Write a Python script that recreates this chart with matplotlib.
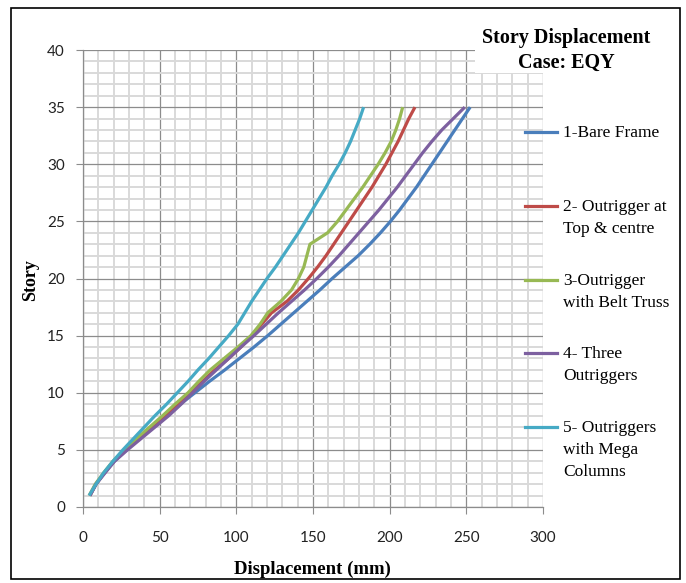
import matplotlib
matplotlib.use("Agg")
import matplotlib.pyplot as plt
from matplotlib.lines import Line2D
from matplotlib.patches import Rectangle
from matplotlib.ticker import MultipleLocator

stories = list(range(1, 36))

bare_frame = [4.5, 8.5, 14, 20.5, 28.5, 37, 46, 55, 63.5, 73,
              82.5, 92.5, 102, 111.5, 120.5, 129, 137.5, 146, 154.5, 162.5,
              171, 179.5, 187, 194, 200.5, 206.5, 212, 217.5, 222.5, 227.5,
              232.5, 237.5, 242.5, 247.5, 252.5]
outrigger_top_centre = [4.5, 8.5, 14, 20, 27.5, 36, 44.5, 53, 61.5, 70,
                        78, 86, 95, 103, 110.5, 116.5, 123, 133, 140.5, 147,
                        153, 158.5, 163.5, 168.5, 173.5, 178.5, 183.5, 188.5, 193, 197.5,
                        201.5, 205.5, 209, 212.5, 216.5]
outrigger_belt_truss = [4, 8, 13.5, 19.5, 27, 35, 43.5, 52, 60, 68.5,
                        75.5, 83, 92, 101, 109.5, 115.5, 120.5, 129, 136, 140.5,
                        144, 146, 148, 159.5, 166, 171.5, 177, 182.5, 187.5, 192.5,
                        197, 201, 204, 206.5, 208.5]
three_outriggers = [4.5, 8.5, 14.5, 20.5, 29, 38, 47, 56, 64, 71.5,
                    79, 87, 95, 103, 111.5, 119.5, 127.5, 136, 144.5, 152.5,
                    160, 167, 173.5, 180, 186.5, 193, 199, 205, 210.5, 216,
                    221.5, 227.5, 234, 241.5, 249]
mega_columns = [4, 8.5, 13.5, 19.5, 26, 33, 40, 47, 54.5, 61.5,
                68.5, 75, 82, 88.5, 95, 101, 105.5, 110, 115, 120,
                125.5, 130.5, 135.5, 140.5, 145, 149.5, 154, 158.5, 162.5, 167,
                171, 174.5, 177.5, 180.5, 183]

series_labels = ["1-Bare Frame", "2- Outrigger at\nTop & centre",
                 "3-Outrigger\nwith Belt Truss", "4- Three\nOutriggers",
                 "5- Outriggers\nwith Mega\nColumns"]
series_values = [bare_frame, outrigger_top_centre, outrigger_belt_truss,
                 three_outriggers, mega_columns]
colors = ["#4A7EBB", "#BE4B48", "#98B954", "#7D60A0", "#46AAC5"]

x_ticks = [0, 50, 100, 150, 200, 250, 300]
y_ticks = [0, 5, 10, 15, 20, 25, 30, 35, 40]

W, H = 686, 583
fig = plt.figure(figsize=(W / 100, H / 100), dpi=100)
fig.patch.set_facecolor("white")

# outer border
fig.patches.append(Rectangle((11 / W, 1 - 579 / H), (680 - 11) / W, (579 - 8) / H,
                             transform=fig.transFigure, fill=False,
                             edgecolor="black", linewidth=1.2, zorder=0))

ax = fig.add_axes([83 / W, 1 - 507 / H, (543 - 83) / W, (507 - 50) / H])
ax.set_xlim(0, 300)
ax.set_ylim(0, 40)
ax.set_xticks(x_ticks)
ax.set_yticks(y_ticks)
ax.xaxis.set_minor_locator(MultipleLocator(10))
ax.yaxis.set_minor_locator(MultipleLocator(1))
ax.grid(which="minor", color="#D9D9D9", linewidth=1.4, zorder=0)
ax.grid(which="major", color="#8C8C8C", linewidth=0.9, zorder=0.5)
ax.set_axisbelow(True)
for s in ["top", "right"]:
    ax.spines[s].set_visible(False)
for s in ["left", "bottom"]:
    ax.spines[s].set_color("#8C8C8C")
    ax.spines[s].set_linewidth(0.9)
ax.tick_params(which="major", direction="out", length=5, color="#8C8C8C",
               labelsize=11, labelcolor="#222222")
ax.tick_params(which="minor", length=0)
for lab in ax.get_xticklabels() + ax.get_yticklabels():
    lab.set_fontfamily("Lato")
ax.tick_params(axis="x", pad=12)
ax.tick_params(axis="y", pad=8)

for vals, c in zip(series_values, colors):
    ax.plot(vals, stories, color=c, linewidth=2.3, solid_joinstyle="round",
            solid_capstyle="butt", zorder=3)

# axis labels
fig.text(31 / W, 1 - 280 / H, "Story", rotation=90, ha="center", va="center",
         fontsize=13, fontweight="bold", family="Liberation Serif")
fig.text(312 / W, 1 - 569 / H, "Displacement (mm)", ha="center", va="center",
         fontsize=13.5, fontweight="bold", family="Liberation Serif")

# title box
fig.patches.append(Rectangle((475 / W, 1 - 73 / H), (660 - 475) / W, (73 - 22) / H,
                             transform=fig.transFigure, facecolor="white",
                             edgecolor="none", zorder=5))
fig.text(566 / W, 1 - 38 / H, "Story Displacement", ha="center", va="center",
         fontsize=14.5, fontweight="bold", family="Liberation Serif", zorder=6)
fig.text(566 / W, 1 - 63 / H, "Case: EQY", ha="center", va="center",
         fontsize=14.5, fontweight="bold", family="Liberation Serif", zorder=6)

# legend
legend_y = [132, 206, 280, 353, 427]
for lab, c, yy in zip(series_labels, colors, legend_y):
    fig.lines.append(Line2D([525 / W, 557 / W], [1 - yy / H, 1 - yy / H],
                            transform=fig.transFigure, color=c, linewidth=2.3))
    fig.text(563 / W, 1 - (yy - 7) / H, lab, ha="left", va="top",
             fontsize=12.5, family="Liberation Serif", linespacing=1.5)

fig.savefig("out.png", dpi=100)
